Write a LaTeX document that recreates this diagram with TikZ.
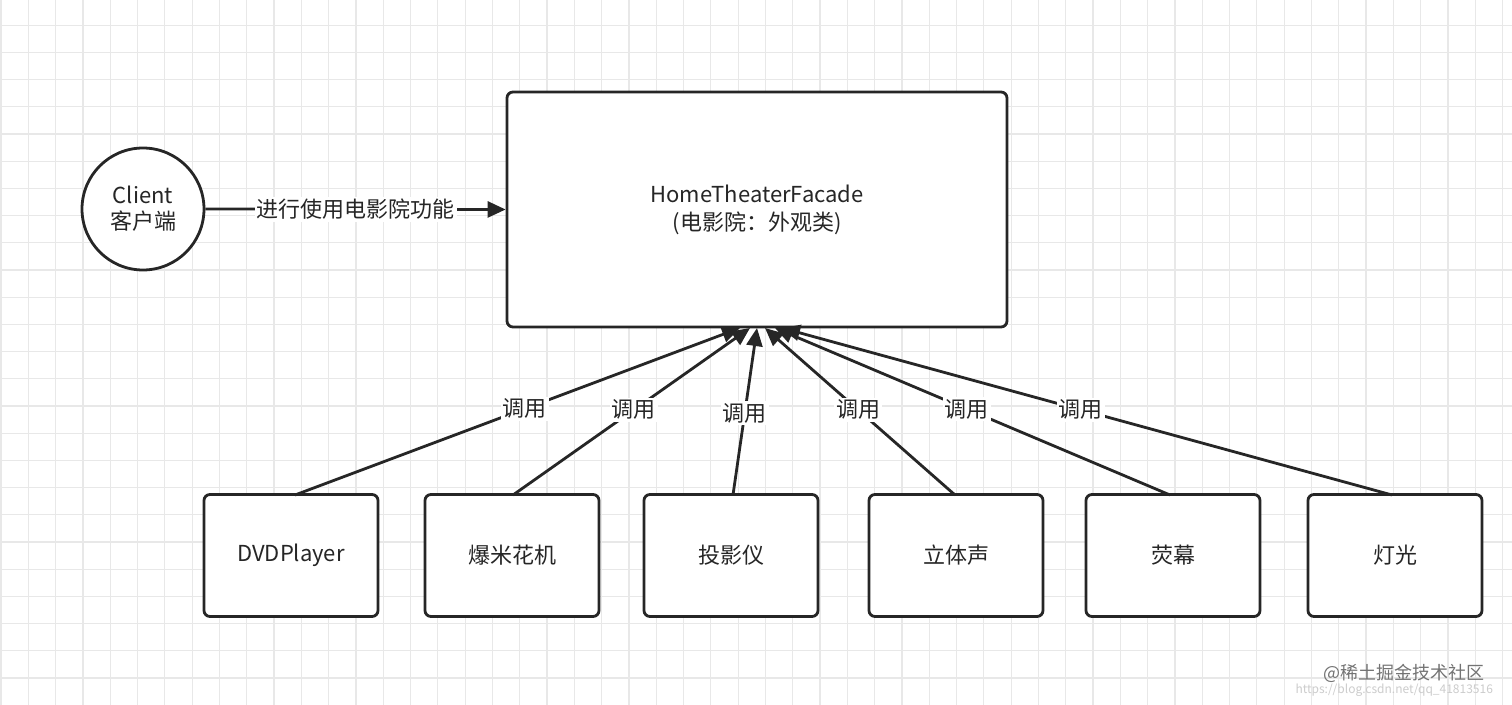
\documentclass[tikz,border=0pt]{standalone}
\usepackage{fontspec}
\setmainfont{Noto Sans CJK SC}
\usetikzlibrary{arrows.meta,calc}
\begin{document}
\begin{tikzpicture}[x=0.5pt,y=-0.5pt,
  box/.style={draw=black!85,line width=1.4pt,rounded corners=3pt,fill=white,inner sep=0},
  lbl/.style={fill=white,inner sep=1pt,font=\fontsize{11}{13}\selectfont,text=black!85},
  conn/.style={line width=1.4pt,draw=black!85,-{Triangle[length=9pt,width=8pt]}},
  every node/.style={text=black!85}]
\useasboundingbox (0,0) rectangle (1512,705);
\fill[white] (0,0) rectangle (1512,705);
\foreach \i in {0,...,55} {\draw[black!9,line width=0.6pt] (1+\i*27.3,0) -- (1+\i*27.3,705);}
\foreach \i in {0,...,26} {\draw[black!9,line width=0.6pt] (0,-2+\i*27.2) -- (1512,-2+\i*27.2);}
\node[circle,draw=black!85,line width=1.4pt,fill=white,minimum size=61pt,align=center,font=\fontsize{11}{13}\selectfont] (client) at (143,209) {Client\\客户端};
\node[box,minimum width=250pt,minimum height=117.5pt,align=center,font=\fontsize{11}{14}\selectfont] (facade) at (757,209.5) {HomeTheaterFacade\\(电影院：外观类)};
\draw[conn] (client.east) -- node[lbl]{进行使用电影院功能} (facade.west);
\foreach \n/\x/\t/\tx/\sx/\p in {a/291/DVDPlayer/740/295/0.516, b/512/爆米花机/750/513/0.51, c/731/投影仪/757/733/0.49, d/956/立体声/765/955/0.51, e/1173/荧幕/775/1170/0.515, f/1395/灯光/782/1392/0.51} {
  \node[box,minimum width=87pt,minimum height=61pt,font=\fontsize{11}{13}\selectfont] (\n) at (\x,555.5) {\t};
  \coordinate (t\n) at (\tx,328);
  \draw[conn] (\sx,495) -- node[lbl,pos=\p]{调用} (t\n);
}
\node[anchor=east,font=\fontsize{9}{11}\selectfont,text=black!55] (wm) at (1492,673) {@稀土掘金技术社区};
\node[anchor=east,font=\fontsize{6}{8}\selectfont,text=black!20] (wm2) at (1500,690) {https://blog.csdn.net/qq\_41813516};
\end{tikzpicture}
\end{document}
